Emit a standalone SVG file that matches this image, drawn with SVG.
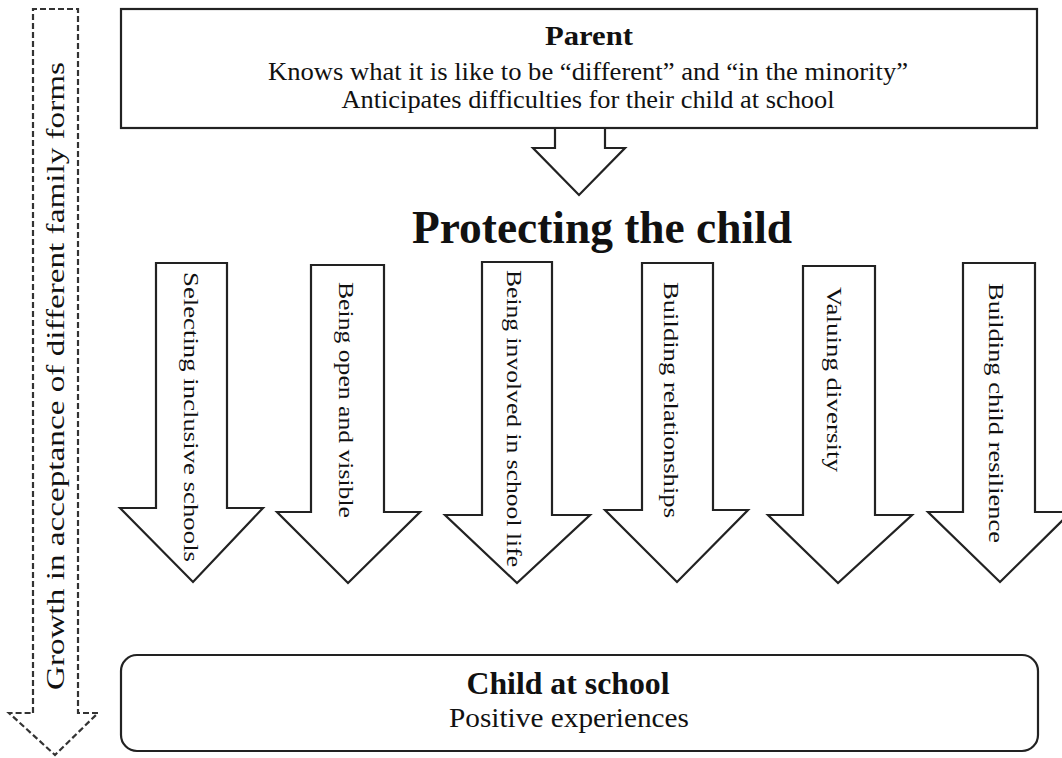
<svg xmlns="http://www.w3.org/2000/svg" width="1062" height="758" viewBox="0 0 1062 758">
<style>
.shape{fill:#fff;stroke:#222;stroke-width:2.2;stroke-linejoin:miter}
.dash{fill:none;stroke:#333;stroke-width:2.2;stroke-dasharray:6 3}
.t{font-family:"Liberation Serif","Times New Roman",serif;fill:#111}
.b{font-weight:bold}
.v{font-size:21px}
</style>
<rect width="1062" height="758" fill="#fff"/>
<g id="growth">
<path class="dash" d="M33,713 V9 H78 V713 H98 L55,755 L9,713 Z"/>
<text class="t" font-size="25" transform="translate(64,690) rotate(-90)" textLength="628" lengthAdjust="spacingAndGlyphs">Growth in acceptance of different family forms</text>
</g>
<g id="parent">
<rect class="shape" x="121" y="9" width="916" height="119"/>
<text class="t b" x="589" y="45" font-size="28" text-anchor="middle" textLength="88" lengthAdjust="spacingAndGlyphs">Parent</text>
<text class="t" x="588" y="80" font-size="25" text-anchor="middle" textLength="640" lengthAdjust="spacingAndGlyphs">Knows what it is like to be “different” and “in the minority”</text>
<text class="t" x="588" y="108" font-size="25" text-anchor="middle" textLength="493" lengthAdjust="spacingAndGlyphs">Anticipates difficulties for their child at school</text>
</g>
<g id="connectors">
<path class="shape" d="M555,129 V148 H533 L579,195 L625,148 H605 V129"/>
</g>
<g id="title">
<text class="t b" x="602" y="243" font-size="46" text-anchor="middle" textLength="380" lengthAdjust="spacingAndGlyphs">Protecting the child</text>
</g>
<g id="arrow1">
<path class="shape" d="M156,263 H227 V508 H263 L193,582 L120,508 H156 Z"/>
<text class="t v" transform="translate(184,272) rotate(90)" textLength="290" lengthAdjust="spacingAndGlyphs">Selecting inclusive schools</text>
</g>
<g id="arrow2">
<path class="shape" d="M311,265 H384 V512 H420 L348,583 L277,512 H311 Z"/>
<text class="t v" transform="translate(339,282) rotate(90)" textLength="236" lengthAdjust="spacingAndGlyphs">Being open and visible</text>
</g>
<g id="arrow3">
<path class="shape" d="M482,262 H552 V515 H590 L517,583 L445,515 H482 Z"/>
<text class="t v" transform="translate(507,270) rotate(90)" textLength="297" lengthAdjust="spacingAndGlyphs">Being involved in school life</text>
</g>
<g id="arrow4">
<path class="shape" d="M642,263 H713 V510 H748 L677,582 L605,510 H642 Z"/>
<text class="t v" transform="translate(664,282) rotate(90)" textLength="236" lengthAdjust="spacingAndGlyphs">Building relationships</text>
</g>
<g id="arrow5">
<path class="shape" d="M803,266 H875 V515 H912 L838,583 L768,515 H803 Z"/>
<text class="t v" transform="translate(827,287) rotate(90)" textLength="185" lengthAdjust="spacingAndGlyphs">Valuing diversity</text>
</g>
<g id="arrow6">
<path class="shape" d="M963,263 H1035 V512 H1071 L1000,582 L928,512 H963 Z"/>
<text class="t v" transform="translate(989,283) rotate(90)" textLength="260" lengthAdjust="spacingAndGlyphs">Building child resilience</text>
</g>
<g id="child">
<rect class="shape" x="121" y="655" width="917" height="96" rx="16"/>
<text class="t b" x="568" y="694" font-size="32" text-anchor="middle" textLength="203" lengthAdjust="spacingAndGlyphs">Child at school</text>
<text class="t" x="569" y="727" font-size="28" text-anchor="middle" textLength="240" lengthAdjust="spacingAndGlyphs">Positive experiences</text>
</g>
</svg>
